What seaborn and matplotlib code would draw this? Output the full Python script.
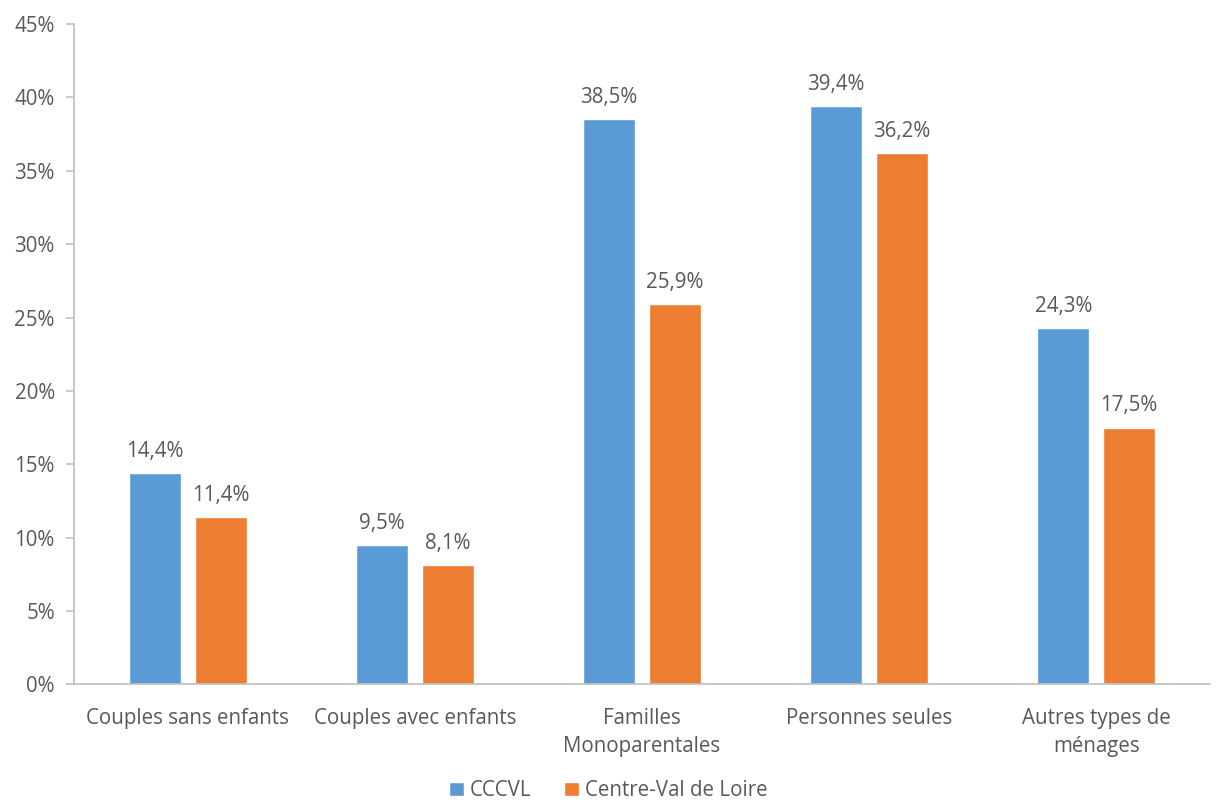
import pandas as pd
import matplotlib
matplotlib.use("Agg")
import matplotlib.pyplot as plt
import seaborn as sns
from matplotlib.ticker import PercentFormatter
from matplotlib.patches import Patch

# Data
categories = [
    "Couples sans enfants",
    "Couples avec enfants",
    "Familles\nMonoparentales",
    "Personnes seules",
    "Autres types de\nménages",
]
cccvl = [14.4, 9.5, 38.5, 39.4, 24.3]
centre_val_de_loire = [11.4, 8.1, 25.9, 36.2, 17.5]
series_names = ["CCCVL", "Centre-Val de Loire"]
colors = ["#5B9BD5", "#ED7D31"]

df = pd.DataFrame({
    "categorie": categories * 2,
    "valeur": cccvl + centre_val_de_loire,
    "serie": [series_names[0]] * len(categories) + [series_names[1]] * len(categories),
})

sns.set_style("white")
plt.rcParams["font.family"] = ["Open Sans", "DejaVu Sans"]
text_color = "#595959"
axis_color = "#BFBFBF"
fs = 14.8

fig = plt.figure(figsize=(12.17, 8.05), dpi=100)
ax = fig.add_axes([0.061, 0.150, 0.933, 0.820])

sns.barplot(
    data=df, x="categorie", y="valeur", hue="serie",
    palette=colors, width=0.58, gap=0.21, ax=ax, legend=False,
    saturation=1,
)

for container in ax.containers:
    ax.bar_label(
        container,
        labels=[f"{v:.1f}%".replace(".", ",") for v in container.datavalues],
        padding=8, fontsize=fs, color=text_color,
    )

ax.set_ylim(0, 45)
ax.set_yticks(range(0, 46, 5))
ax.yaxis.set_major_formatter(PercentFormatter(decimals=0))
ax.set_xlim(-0.5, len(categories) - 0.5)
ax.set_xlabel("")
ax.set_ylabel("")

for side in ["top", "right"]:
    ax.spines[side].set_visible(False)
for side in ["left", "bottom"]:
    ax.spines[side].set_color(axis_color)
    ax.spines[side].set_linewidth(1.2)

ax.tick_params(axis="y", length=6, width=1.2, color=axis_color,
               labelsize=fs, labelcolor=text_color, pad=8, left=True)
ax.tick_params(axis="x", length=0, labelsize=fs, labelcolor=text_color, pad=17)
for lbl in ax.get_xticklabels():
    lbl.set_linespacing(1.42)

handles = [Patch(facecolor=c, label=n) for c, n in zip(colors, series_names)]
fig.legend(
    handles=handles, loc="center", bbox_to_anchor=(0.5, 0.018),
    ncol=2, frameon=False, fontsize=fs, labelcolor=text_color,
    handlelength=0.7, handleheight=0.7, handletextpad=0.3, columnspacing=1.6,
)

fig.savefig("out.png", dpi=100)
